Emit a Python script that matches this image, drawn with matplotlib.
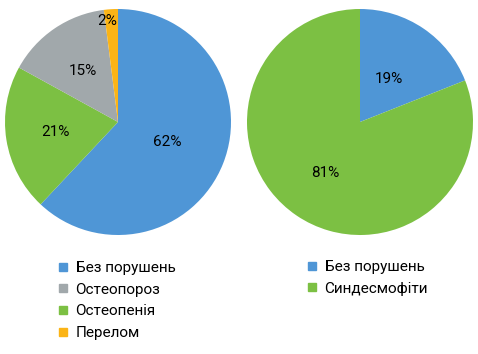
import matplotlib.pyplot as plt
from matplotlib.lines import Line2D
import numpy as np

plt.rcParams['font.family'] = ['Roboto', 'DejaVu Sans']
plt.rcParams['font.size'] = 11

# left chart (legend order)
left_labels = ['Без порушень', 'Остеопороз', 'Остеопенія', 'Перелом']
left_values = [62, 15, 21, 2]
left_colors = ['#4f96d6', '#a1a8ab', '#7cc043', '#fbb416']
left_order = [0, 2, 1, 3]  # clockwise order of slices from the top

# right chart
right_labels = ['Без порушень', 'Синдесмофіти']
right_values = [19, 81]
right_colors = ['#4f96d6', '#7cc043']

W, H = 478, 354
fig = plt.figure(figsize=(W / 100, H / 100), dpi=100)


def pie_axes(cx, cy, r):
    return fig.add_axes([(cx - r) / W, 1 - (cy + r) / H, 2 * r / W, 2 * r / H])


def draw_pie(ax, values, colors, dists):
    wedges, _ = ax.pie(values, colors=colors, startangle=90, counterclock=False,
                       wedgeprops=dict(linewidth=0))
    for w, v, d in zip(wedges, values, dists):
        a = np.deg2rad((w.theta1 + w.theta2) / 2)
        ax.text(d * np.cos(a), d * np.sin(a), f'{v}%', ha='center', va='center')
    ax.set_xlim(-1, 1)
    ax.set_ylim(-1, 1)
    ax.set_aspect('auto')


ax1 = pie_axes(118, 122, 113)
draw_pie(ax1, [left_values[i] for i in left_order], [left_colors[i] for i in left_order],
         [0.47, 0.56, 0.55, 0.9])
# small slice label sits just left of the slice
ax1.texts[-1].set_x(-0.1)

ax2 = pie_axes(360, 122, 113)
draw_pie(ax2, right_values, right_colors, [0.46, 0.55])


def legend(labels, colors, x, y):
    handles = [Line2D([], [], linestyle='none', marker='s', markersize=6,
                      markerfacecolor=c, markeredgecolor=c) for c in colors]
    fig.legend(handles, labels, loc='upper left', bbox_to_anchor=(x / W, 1 - y / H),
               frameon=False, handlelength=0.7, handletextpad=0.45, labelspacing=0.5,
               borderpad=0, borderaxespad=0)


legend(left_labels, left_colors, 58, 261)
legend(right_labels, right_colors, 307, 260)

fig.savefig('out.png', dpi=100)
